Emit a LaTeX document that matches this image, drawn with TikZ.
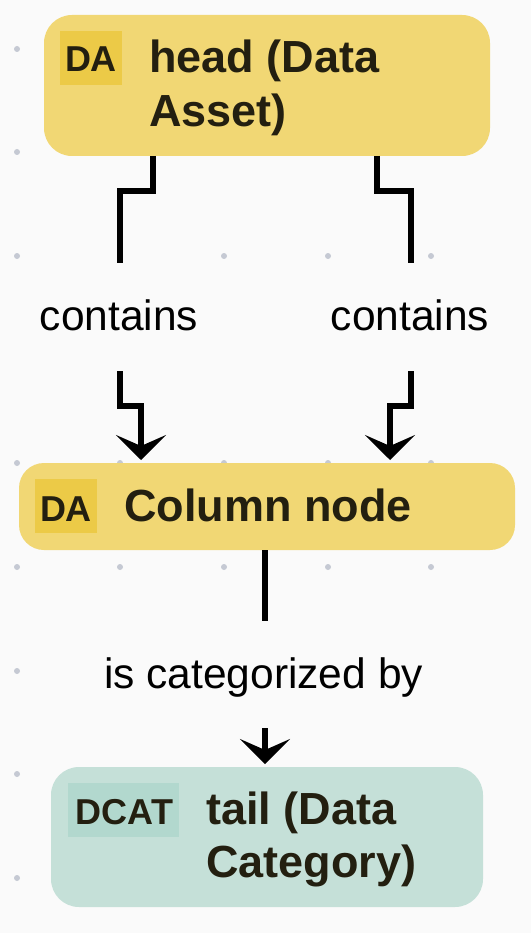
\documentclass[tikz,border=0pt]{standalone}
\usepackage{fontspec}
\setmainfont{Liberation Sans}
\usetikzlibrary{arrows.meta}
\definecolor{bg}{HTML}{FAFAFA}
\definecolor{dotc}{HTML}{C5C9D3}
\definecolor{yfill}{HTML}{F1D774}
\definecolor{ybadge}{HTML}{ECCA47}
\definecolor{gfill}{HTML}{C5E0D8}
\definecolor{gbadge}{HTML}{B2D8CE}
\definecolor{ink}{HTML}{231F10}
\tikzset{
  box/.style={rounded corners=28pt, inner sep=0pt, draw=none},
  badge/.style={inner sep=0pt, draw=none},
  badgetext/.style={font=\fontsize{36}{40}\selectfont\bfseries, text=ink, inner sep=0pt, anchor=base},
  title/.style={font=\fontsize{45}{54}\selectfont\bfseries, text=ink, inner sep=0pt, anchor=base west},
  lbl/.style={font=\fontsize{42.5}{50}\selectfont, text=black, inner sep=0pt, anchor=base},
  conn/.style={line width=6.5pt, black, miter limit=10},
  tip/.style={-{Stealth[length=25pt, width=50pt, inset=11pt]}},
  gdot/.style={fill=dotc, draw=none}
}
\begin{document}
\begin{tikzpicture}[x=1pt, y=-1pt]
\fill[bg] (0,0) rectangle (531,933);
\useasboundingbox (0,0) rectangle (531,933);
% grid dots
\foreach \yy in {49,152,256,463,567,774,878}{
  \foreach \xx in {17,120,224,328,431}{
    \fill[gdot] (\xx,\yy) circle (3pt);
  }
}
\fill[gdot] (17,671) circle (3pt);
% boxes
\node[box, fill=yfill, minimum width=446pt, minimum height=141pt] (head) at (267,85.5) {};
\node[badge, fill=ybadge, minimum width=62pt, minimum height=54pt] (headbadge) at (91,58) {};
\node[badgetext] (headbadgetxt) at (91,72) {DA};
\node[title] (headt1) at (149,73) {head (Data};
\node[title] (headt2) at (149,127) {Asset)};

\node[box, fill=yfill, minimum width=496pt, minimum height=87pt, rounded corners=25pt] (col) at (267,506.5) {};
\node[badge, fill=ybadge, minimum width=62pt, minimum height=54pt] (colbadge) at (66,506) {};
\node[badgetext] (colbadgetxt) at (66,521) {DA};
\node[title] (colt) at (124,521) {Column node};

\node[box, fill=gfill, minimum width=432pt, minimum height=140pt] (tail) at (267,837) {};
\node[badge, fill=gbadge, minimum width=111pt, minimum height=54pt] (tailbadge) at (123.5,810) {};
\node[badgetext] (tailbadgetxt) at (124.5,824) {DCAT};
\node[title] (tailt1) at (206,824) {tail (Data};
\node[title] (tailt2) at (206,877) {Category)};

% labels
\node[lbl] (lc1) at (119,330) {contains};
\node[lbl] (lc2) at (410,330) {contains};
\node[lbl] (lcat) at (263.5,688) {is categorized by};

% connector coordinates
\coordinate (a1) at (153,156);
\coordinate (a2) at (120,263);
\coordinate (a3) at (120,371);
\coordinate (a4) at (141,460);
\coordinate (b1) at (377,156);
\coordinate (b2) at (411,263);
\coordinate (b3) at (411,371);
\coordinate (b4) at (390,460);
\coordinate (c1) at (265,550);
\coordinate (c2) at (265,621);
\coordinate (c3) at (265,728);
\coordinate (c4) at (265,764);

\draw[conn] (a1) -- (153,191) -| (a2);
\draw[conn, tip] (a3) -- (120,406) -| (a4);
\draw[conn] (b1) -- (377,191) -| (b2);
\draw[conn, tip] (b3) -- (411,406) -| (b4);
\draw[conn] (c1) -- (c2);
\draw[conn, tip] (c3) -- (c4);
\end{tikzpicture}
\end{document}
